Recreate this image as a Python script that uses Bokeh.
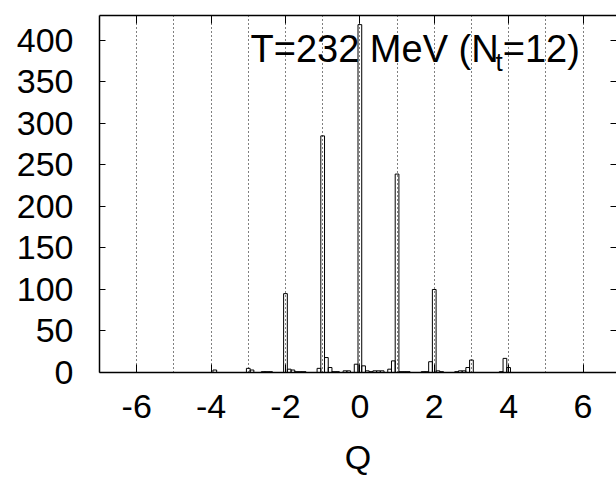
from bokeh.plotting import figure
from bokeh.models import Range1d, LinearAxis, FixedTicker, Label
from bokeh.embed import file_html
from bokeh.resources import INLINE

# histogram bins (bin centres, width 0.1) and counts
q_bins = [-3.9, -3.0, -2.9, -2.6, -2.5, -2.4, -2.0, -1.9, -1.8, -1.7, -1.6, -1.5,
          -1.1, -1.0, -0.9, -0.8, -0.7, -0.6, -0.4, -0.3, -0.1, 0.0, 0.1, 0.2,
          0.3, 0.4, 0.5, 0.6, 0.8, 0.9, 1.0, 1.1, 1.2, 1.3, 1.7, 1.8, 1.9, 2.0,
          2.1, 2.2, 2.6, 2.7, 2.8, 2.9, 3.0, 3.8, 3.9, 4.0]
counts = [3, 5, 3, 1, 1, 1, 95, 4, 3, 1, 1, 1,
          5, 285, 18, 6, 1, 1, 2, 2, 10, 419, 8, 2,
          1, 2, 2, 2, 4, 14, 239, 1, 1, 1, 1, 1, 13, 100,
          2, 1, 1, 2, 2, 6, 15, 1, 17, 6]
bin_width = 0.1

x_ticks = [-6, -4, -2, 0, 2, 4, 6]
x_tick_labels = ["-6", "-4", "-2", "0", "2", "4", "6"]
grid_q = [-7, -6, -5, -4, -3, -2, -1, 0, 1, 2, 3, 4, 5, 6, 7]
y_ticks = [0, 50, 100, 150, 200, 250, 300, 350, 400]

title_main = "T=232 MeV (N"
title_sub = "t"
title_end = "=12)"
x_label = "Q"

FONT = "Liberation Sans"

p = figure(width=616, height=478, output_backend="svg", toolbar_location=None,
           x_range=Range1d(-7, 6.90), y_range=Range1d(0, 430),
           min_border_left=99, min_border_right=0, min_border_top=15,
           min_border_bottom=106)
p.outline_line_color = None
p.background_fill_color = "white"
p.border_fill_color = "white"

# bottom axis
xa = p.xaxis[0]
xa.ticker = FixedTicker(ticks=x_ticks)
xa.major_label_overrides = {t: s for t, s in zip(x_ticks, x_tick_labels)}
xa.major_tick_in = 8
xa.major_tick_out = 0
xa.minor_tick_line_color = None
xa.axis_line_width = 1.5
xa.axis_line_color = "black"
xa.major_tick_line_color = "black"
xa.major_label_text_font = FONT
xa.major_label_text_font_size = "34px"
xa.major_label_text_color = "black"
xa.major_label_standoff = 22
xa.axis_label = x_label
xa.axis_label_text_font = FONT
xa.axis_label_text_font_size = "34px"
xa.axis_label_text_font_style = "normal"
xa.axis_label_text_color = "black"
xa.axis_label_standoff = 17

# left axis
ya = p.yaxis[0]
ya.ticker = FixedTicker(ticks=y_ticks)
ya.major_tick_in = 6
ya.major_tick_out = 0
ya.minor_tick_line_color = None
ya.axis_line_width = 1.5
ya.axis_line_color = "black"
ya.major_tick_line_color = "black"
ya.major_label_text_font = FONT
ya.major_label_text_font_size = "34px"
ya.major_label_text_color = "black"
ya.major_label_standoff = 26

# top axis (frame line + inward ticks)
top = LinearAxis(ticker=FixedTicker(ticks=x_ticks), major_tick_in=8, major_tick_out=0,
                 minor_tick_line_color=None, axis_line_width=1.5,
                 axis_line_color="black", major_tick_line_color="black",
                 major_label_text_font_size="0px", major_label_standoff=0)
top.major_label_overrides = {t: "" for t in x_ticks}
p.add_layout(top, "above")

# right axis (inward ticks only)
right = LinearAxis(ticker=FixedTicker(ticks=y_ticks), major_tick_in=6, major_tick_out=0,
                   minor_tick_line_color=None, axis_line_color=None,
                   major_label_text_font_size="0px", major_label_standoff=0)
right.major_label_overrides = {t: "" for t in y_ticks}
p.add_layout(right, "right")

# grid
p.ygrid.visible = False
p.xgrid.ticker = FixedTicker(ticks=grid_q)
p.xgrid.grid_line_color = "black"
p.xgrid.grid_line_dash = "1 3"
p.xgrid.grid_line_width = 1

# histogram bars (hollow)
p.vbar(x=q_bins, top=counts, width=bin_width, bottom=0,
       fill_color=None, line_color="black", line_width=1)

# plot title text
p.add_layout(Label(x=-2.94, y=390, text=title_main, text_font=FONT,
                   text_font_size="38px", text_color="black",
                   text_baseline="alphabetic"))
p.add_layout(Label(x=3.65, y=374, text=title_sub, text_font=FONT,
                   text_font_size="26px", text_color="black",
                   text_baseline="alphabetic"))
p.add_layout(Label(x=3.84, y=390, text=title_end, text_font=FONT,
                   text_font_size="38px", text_color="black",
                   text_baseline="alphabetic"))

open("out.html", "w").write(file_html(p, INLINE))
